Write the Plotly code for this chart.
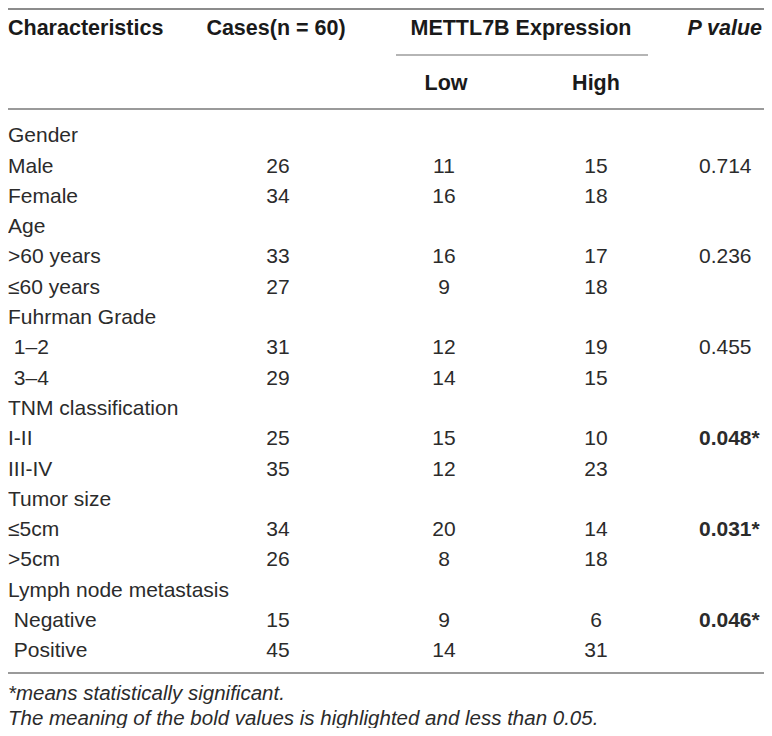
import plotly.graph_objects as go

# table content
characteristics = ["Gender", "Male", "Female", "Age", ">60 years", "≤60 years",
                   "Fuhrman Grade", "\u00a01–2", "\u00a03–4", "TNM classification",
                   "I-II", "III-IV", "Tumor size", "≤5cm", ">5cm",
                   "Lymph node metastasis", "\u00a0Negative", "\u00a0Positive"]
cases = ["", "26", "34", "", "33", "27", "", "31", "29", "", "25", "35", "", "34", "26", "", "15", "45"]
low = ["", "11", "16", "", "16", "9", "", "12", "14", "", "15", "12", "", "20", "8", "", "9", "14"]
high = ["", "15", "18", "", "17", "18", "", "19", "15", "", "10", "23", "", "14", "18", "", "6", "31"]
p_values = ["", "0.714", "", "", "0.236", "", "", "0.455", "", "", "0.048*", "", "", "0.031*", "", "", "0.046*", ""]
significant = [False, False, False, False, False, False, False, False, False, False,
               True, False, False, True, False, False, True, False]

headers = ["Characteristics", "Cases(n = 60)", "METTL7B Expression", "<i>P value</i>"]
sub_headers = ["Low", "High"]
footnotes = ["*means statistically significant.",
             "The meaning of the bold values is highlighted and less than 0.05."]

# the page keeps an 8px body margin on every side, so the figure is made to fit
# inside it and the axes are shifted so that data units equal screen pixels
W, H = 772, 736
OFF = 8
LEFT, RIGHT, BOTTOM = OFF, W - OFF, H - OFF
FONT = "Liberation Sans"
body = dict(family=FONT, size=21, color="#2b2b2b")
head = dict(family=FONT, size=21.5, color="#1a1a1a")

row0, step = 137, 30.3
ys = [row0 + i * step for i in range(len(characteristics))]

fig = go.Figure()

# body columns
fig.add_trace(go.Scatter(x=[LEFT] * len(ys), y=ys, text=characteristics, mode="text",
                         textposition="middle right", textfont=body))
for col, xc in [(cases, 278), (low, 444), (high, 596)]:
    fig.add_trace(go.Scatter(x=[xc] * len(ys), y=ys, text=col, mode="text",
                             textposition="middle center", textfont=body))
p_txt = [f"<b>{p}</b>" if s else p for p, s in zip(p_values, significant)]
fig.add_trace(go.Scatter(x=[699] * len(ys), y=ys, text=p_txt, mode="text",
                         textposition="middle right", textfont=body))

# header
fig.add_trace(go.Scatter(x=[LEFT], y=[30], text=["<b>" + headers[0] + "</b>"], mode="text",
                         textposition="middle right", textfont=head))
fig.add_trace(go.Scatter(x=[276, 521], y=[30, 30], text=["<b>" + h + "</b>" for h in headers[1:3]],
                         mode="text", textposition="middle center", textfont=head))
fig.add_trace(go.Scatter(x=[RIGHT - 2], y=[30], text=["<b>" + headers[3] + "</b>"], mode="text",
                         textposition="middle left", textfont=head))
fig.add_trace(go.Scatter(x=[446, 596], y=[85, 85], text=["<b>" + h + "</b>" for h in sub_headers],
                         mode="text", textposition="middle center", textfont=head))

# footnotes
fig.add_trace(go.Scatter(x=[LEFT, LEFT], y=[695, 720], text=["<i>" + f + "</i>" for f in footnotes],
                         mode="text", textposition="middle right",
                         textfont=dict(family=FONT, size=20.5, color="#2b2b2b")))

# rules
for y0, xa, xb, c in [(OFF + 1, LEFT, RIGHT, "#8c8c8c"), (55, 396, 648, "#b5b5b5"),
                      (109, LEFT, RIGHT, "#9a9a9a"), (673, LEFT, RIGHT, "#9a9a9a")]:
    fig.add_shape(type="line", x0=xa, x1=xb, y0=y0, y1=y0, xref="x", yref="y",
                  line=dict(color=c, width=2))

fig.update_layout(width=RIGHT - LEFT, height=BOTTOM - OFF, margin=dict(l=0, r=0, t=0, b=0),
                  paper_bgcolor="white", plot_bgcolor="white", showlegend=False,
                  xaxis=dict(range=[LEFT, RIGHT], visible=False, fixedrange=True),
                  yaxis=dict(range=[BOTTOM, OFF], visible=False, fixedrange=True))
fig.update_traces(hoverinfo="skip", cliponaxis=False)

fig.write_html("out.html")
